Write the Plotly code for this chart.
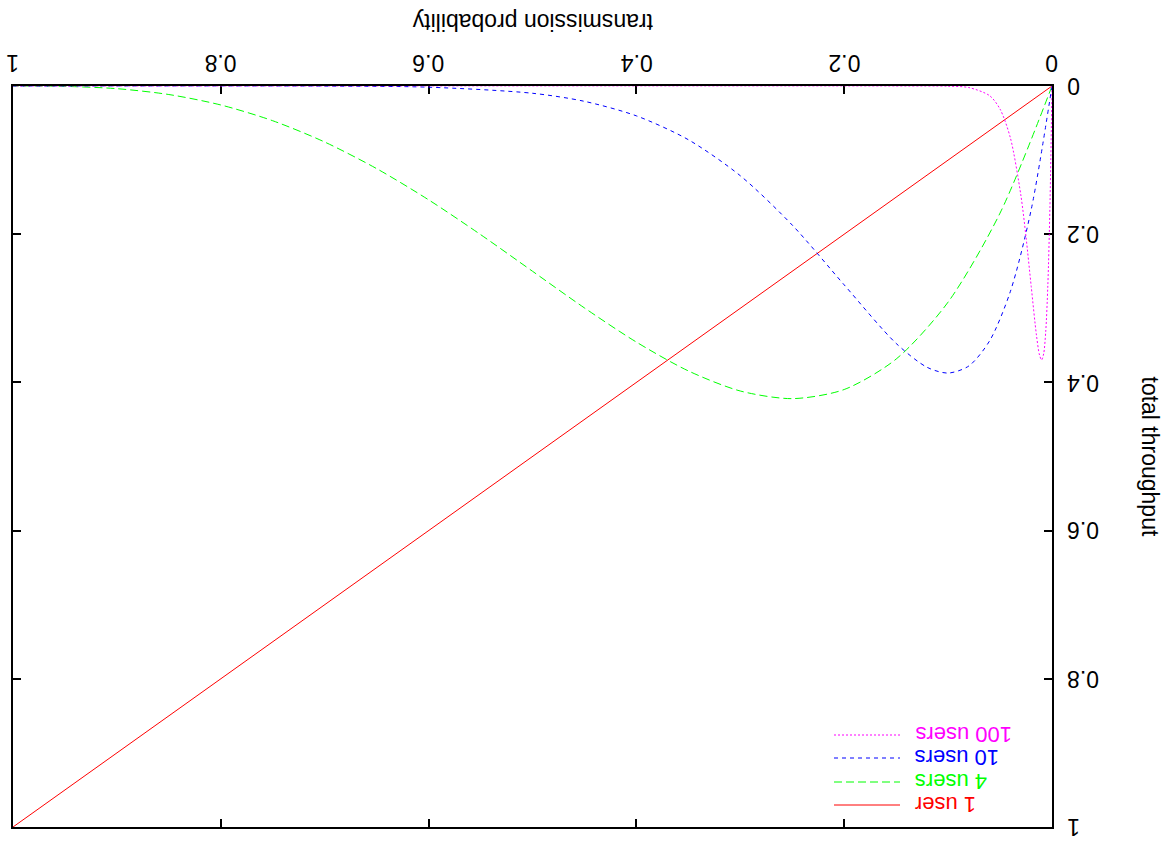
import plotly.graph_objects as go

# Data: total throughput vs transmission probability
p_1user = [0, 1]
t_1user = [0, 1]

p_4users = [0, 0.05, 0.1, 0.15, 0.2, 0.25, 0.3, 0.35, 0.4, 0.45, 0.5, 0.55, 0.6,
            0.65, 0.7, 0.75, 0.8, 0.85, 0.9, 0.95, 1.0]
t_4users = [0, 0.1715, 0.2916, 0.3685, 0.4096, 0.4219, 0.4116, 0.3845, 0.3456,
            0.2995, 0.25, 0.2005, 0.1536, 0.1115, 0.0756, 0.0469, 0.0256, 0.0115,
            0.0036, 0.0005, 0]

p_10users = [0, 0.02, 0.04, 0.06, 0.08, 0.1, 0.12, 0.15, 0.2, 0.25, 0.3, 0.35,
             0.4, 0.45, 0.5, 0.6, 0.7, 1.0]
t_10users = [0, 0.1667, 0.2770, 0.3438, 0.3778, 0.3874, 0.3798, 0.3474, 0.2684,
             0.1877, 0.1211, 0.0725, 0.0403, 0.0207, 0.0098, 0.0016, 0.0001, 0]

p_100users = [0, 0.002, 0.004, 0.006, 0.008, 0.01, 0.012, 0.015, 0.02, 0.025,
              0.03, 0.04, 0.05, 0.06, 0.08, 0.1, 0.15, 1.0]
t_100users = [0, 0.1640, 0.2690, 0.3307, 0.3612, 0.3697, 0.3632, 0.3360, 0.2706,
              0.2039, 0.1471, 0.0703, 0.0312, 0.0131, 0.0021, 0.0003, 0, 0]

series = [
    ("100 users", p_100users, t_100users, "#ff00ff", "2px,2px"),
    ("10 users", p_10users, t_10users, "#0000ff", "4px,4px"),
    ("4 users", p_4users, t_4users, "#00ff00", "8px,4px"),
    ("1 user", p_1user, t_1user, "#ff0000", "solid"),
]

tick_vals = [0, 0.2, 0.4, 0.6, 0.8, 1]
tick_text = ["0", "0.2", "0.4", "0.6", "0.8", "1"]

FONT = "Liberation Sans, Arial, sans-serif"
FS = 23
FS_LEG = 22

fig = go.Figure()
for name, xs, ys, col, dash in reversed(series):
    fig.add_trace(go.Scatter(
        x=xs, y=ys, mode="lines", name=name,
        line=dict(color=col, width=1, dash=dash,
                  shape="linear" if len(xs) == 2 else "spline", smoothing=0.8),
        showlegend=False,
    ))

axis_common = dict(
    showgrid=False, zeroline=False, showline=True, linecolor="black",
    linewidth=2, mirror="ticks", ticks="inside", ticklen=8, tickwidth=1.5,
    tickcolor="black", tickvals=tick_vals, showticklabels=False,
    automargin=False, layer="below traces",
)

fig.update_layout(
    width=1172, height=842,
    margin=dict(l=13, r=120, t=86, b=15),
    paper_bgcolor="white", plot_bgcolor="white",
    xaxis=dict(range=[1, 0], side="top", **axis_common),
    yaxis=dict(range=[1, 0], side="right", **axis_common),
    showlegend=False,
)

# Tick labels (upside-down, as in the reference)
for v, t in zip(tick_vals, tick_text):
    fig.add_annotation(text=t, xref="x", yref="paper", x=v, y=1, yshift=23,
                       xanchor="center", yanchor="middle", showarrow=False,
                       textangle=180, font=dict(family=FONT, size=FS, color="black"))
    fig.add_annotation(text=t, xref="paper", yref="y", x=1, y=v, xshift=13,
                       xanchor="left", yanchor="middle", showarrow=False,
                       textangle=180, font=dict(family=FONT, size=FS, color="black"))

# Axis titles (upside-down, as in the reference)
fig.add_annotation(text="transmission probability", xref="paper", yref="paper",
                   x=0.5, y=1, yshift=64, xanchor="center", yanchor="middle",
                   showarrow=False, textangle=180,
                   font=dict(family=FONT, size=FS, color="black"))
fig.add_annotation(text="total throughput", xref="paper", yref="paper",
                   x=1, y=0.5, xshift=98, xanchor="center", yanchor="middle",
                   showarrow=False, textangle=90,
                   font=dict(family=FONT, size=FS, color="black"))

# Manual legend (rotated 180 degrees)
legend_y_px = [735, 758, 782, 805]
plot_top, plot_h = 86, 741
plot_left, plot_w = 13, 1039
def px_to_paper_x(px):
    return (px - plot_left) / plot_w
def px_to_paper_y(py):
    return 1 - (py - plot_top) / plot_h

for (name, xs, ys, col, dash), py in zip(series, legend_y_px):
    yy = px_to_paper_y(py)
    fig.add_shape(type="line", xref="paper", yref="paper",
                  x0=px_to_paper_x(834), x1=px_to_paper_x(900), y0=yy, y1=yy,
                  line=dict(color=col, width=1, dash=dash))
    fig.add_annotation(text=name, xref="paper", yref="paper",
                       x=px_to_paper_x(913), y=yy, xanchor="left", yanchor="middle",
                       showarrow=False, textangle=180,
                       font=dict(family=FONT, size=FS_LEG, color=col))

fig.write_html("out.html", config={"displayModeBar": False},
               post_script="document.body.style.margin='0';document.body.style.padding='0';")
